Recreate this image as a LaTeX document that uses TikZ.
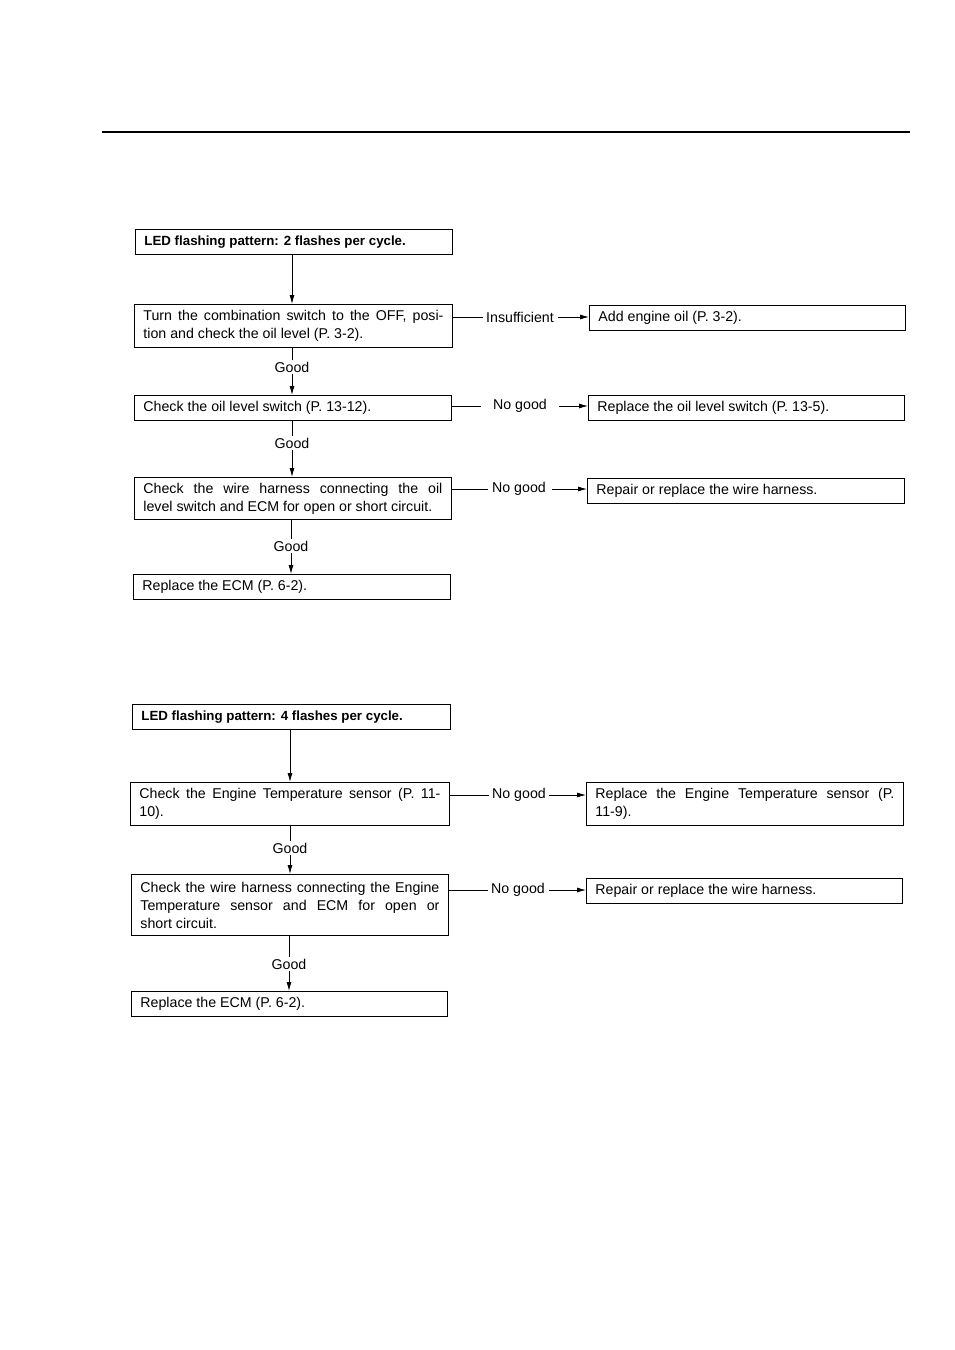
\documentclass[tikz,border=0pt]{standalone}
\usepackage{fontspec}
\setmainfont{Liberation Sans}
\usetikzlibrary{arrows.meta}
\begin{document}
\begin{tikzpicture}[x=1pt,y=-1pt,
  every node/.style={font=\fontsize{14.2}{18}\selectfont},
  box/.style={draw, line width=0.9pt, anchor=north west, inner xsep=9pt, inner ysep=2pt, minimum height=25pt, text width=299pt, align=justify},
  bt/.style={font=\fontsize{13.3}{18}\selectfont\bfseries},
  lab/.style={inner sep=2pt},
  conn/.style={line width=0.8pt},
  arr/.style={line width=0.8pt, -{Latex[length=9pt,width=5pt]}}]
\useasboundingbox (0,0) rectangle (954,1350);
\draw[line width=1.1pt] (102,132) -- (910,132);

% ---- flow 1
\node[box, bt] (a1) at (135,229) {LED flashing pattern: 2 flashes per cycle.};
\node[box, minimum height=43pt, text width=300pt] (a2) at (134,304) {Turn the combination switch to the OFF, posi-\linebreak tion and check the oil level (P. 3-2).};
\node[box, text width=298pt] (a3) at (589,305) {Add engine oil (P. 3-2).};
\node[box] (a4) at (134,395) {Check the oil level switch (P. 13-12).};
\node[box, text width=298pt] (a5) at (588,395) {Replace the oil level switch (P. 13-5).};
\node[box, minimum height=42pt] (a6) at (134,477) {Check the wire harness connecting the oil\linebreak level switch and ECM for open or short circuit.};
\node[box] (a7) at (587,478) {Repair or replace the wire harness.};
\node[box] (a8) at (133,574) {Replace the ECM (P. 6-2).};

\node[lab] (g1) at (292,367) {Good};
\node[lab] (g2) at (292,443) {Good};
\node[lab] (g3) at (291,546) {Good};
\node[lab] (n1) at (520,317) {Insufficient};
\node[lab] (n2) at (520,406) {No good};
\node[lab] (n3) at (519,489) {No good};

\draw[arr] (a1.south -| g1) -- (a2.north -| g1);
\draw[conn] (a2.south -| g1) -- (g1.north);
\draw[arr] (g1.south) -- (a4.north -| g1);
\draw[conn] (a4.south -| g2) -- (g2.north);
\draw[arr] (g2.south) -- (a6.north -| g2);
\draw[conn] (a6.south -| g3) -- (g3.north);
\draw[arr] (g3.south) -- (a8.north -| g3);

\draw[conn] (a2.east |- n1.west) -- ([xshift=-1pt]n1.west);
\draw[arr] ([xshift=2pt]n1.east) -- (a3.west |- n1.east);
\draw[conn] (a4.east |- n2.west) -- ([xshift=-10pt]n2.west);
\draw[arr] ([xshift=10pt]n2.east) -- (a5.west |- n2.east);
\draw[conn] (a6.east |- n3.west) -- ([xshift=-2pt]n3.west);
\draw[arr] ([xshift=4pt]n3.east) -- (a7.west |- n3.east);

% ---- flow 2
\node[box, bt, text width=300pt] (b1) at (132,704) {LED flashing pattern: 4 flashes per cycle.};
\node[box, minimum height=43pt, text width=301pt] (b2) at (130,782) {Check the Engine Temperature sensor (P. 11-\linebreak 10).};
\node[box, minimum height=43pt] (b3) at (586,782) {Replace the Engine Temperature sensor (P.\linebreak 11-9).};
\node[box, minimum height=61pt] (b4) at (131,874) {Check the wire harness connecting the Engine\linebreak Temperature sensor and ECM for open or\linebreak short circuit.};
\node[box, text width=298pt] (b5) at (586,878) {Repair or replace the wire harness.};
\node[box, text width=298pt] (b6) at (131,991) {Replace the ECM (P. 6-2).};

\node[lab] (h1) at (290,848) {Good};
\node[lab] (h2) at (289,964) {Good};
\node[lab] (m1) at (519,795) {No good};
\node[lab] (m2) at (518,890) {No good};

\draw[arr] (b1.south -| h1) -- (b2.north -| h1);
\draw[conn] (b2.south -| h1) -- (h1.north);
\draw[arr] (h1.south) -- (b4.north -| h1);
\draw[conn] (b4.south -| h2) -- (h2.north);
\draw[arr] (h2.south) -- (b6.north -| h2);

\draw[conn] (b2.east |- m1.west) -- ([xshift=-1pt]m1.west);
\draw[arr] ([xshift=1pt]m1.east) -- (b3.west |- m1.east);
\draw[conn] (b4.east |- m2.west) -- ([xshift=-1pt]m2.west);
\draw[arr] ([xshift=2pt]m2.east) -- (b5.west |- m2.east);
\end{tikzpicture}
\end{document}
